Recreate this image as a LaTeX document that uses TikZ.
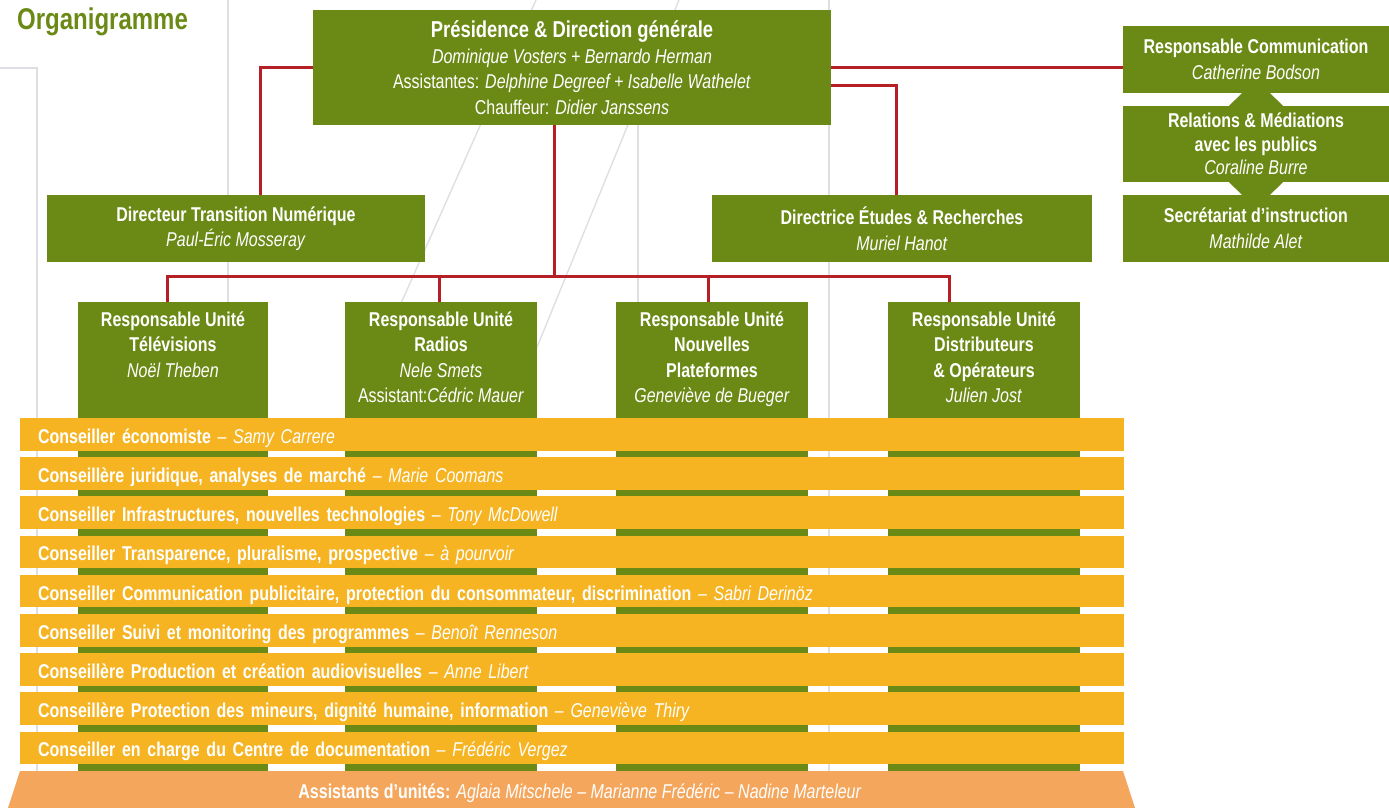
\documentclass[tikz,border=0pt]{standalone}
\usepackage{fontspec}
\setmainfont{Liberation Sans}[FakeStretch=0.8]
\usetikzlibrary{positioning}
\definecolor{CSAGreen}{RGB}{107,137,21}
\definecolor{CSARed}{RGB}{181,32,38}
\definecolor{CSAYellow}{RGB}{246,180,35}
\definecolor{CSAOrange}{RGB}{244,166,92}
\definecolor{CSAGray}{RGB}{221,223,227}

\begin{document}
\begin{tikzpicture}[x=1pt,y=-1pt,
  box/.style={fill=CSAGreen,text=white,align=center,inner sep=0pt,font=\fontsize{20}{25.5}\selectfont},
  unitcol/.style={fill=CSAGreen,minimum width=190pt,minimum height=469pt,inner sep=0pt},
  unittxt/.style={text=white,align=center,inner sep=0pt,anchor=north,font=\fontsize{20}{25.3}\selectfont},
  bar/.style={fill=CSAYellow,text=white,text width=1068pt,align=left,inner xsep=18pt,inner ysep=0pt,minimum height=32.5pt,text height=19pt,text depth=1pt,font=\fontsize{20}{24}\selectfont},
  link/.style={draw=CSARed,line width=3pt},
  deco/.style={draw=CSAGray,line width=1.4pt}]
\useasboundingbox (0,0) rectangle (1389,808);
\draw[deco] (0,68) -- (37,68) -- (37,771);
\draw[deco] (228,0) -- (228,771);
\draw[deco] (638,125) -- (638,771);
\draw[deco] (829,0) -- (829,771);
\draw[deco] (536,0) -- (350,418);
\draw[deco] (679,0) -- (508,418);

\node[box,minimum width=518pt,minimum height=115pt] (pres) at (572,67.5) {{\fontsize{23}{25.5}\selectfont\textbf{Présidence \& Direction générale}}\\\textit{Dominique Vosters + Bernardo Herman}\\Assistantes: \textit{Delphine Degreef + Isabelle Wathelet}\\Chauffeur: \textit{Didier Janssens}};
\node[box,minimum width=266pt,minimum height=67pt] (comm) at (1256,59.5) {\textbf{Responsable Communication}\\\textit{Catherine Bodson}};
\node[box,minimum width=266pt,minimum height=76pt,font=\fontsize{20}{23.5}\selectfont] (rel) at (1256,144) {\textbf{Relations \& Médiations}\\\textbf{avec les publics}\\\textit{Coraline Burre}};
\node[box,minimum width=266pt,minimum height=67pt] (secr) at (1256,228.5) {\textbf{Secrétariat d’instruction}\\\textit{Mathilde Alet}};
\fill[CSAGreen] ([xshift=-14pt]comm.south) -- ([xshift=14pt]comm.south) -- ([xshift=27pt]rel.north) -- ([xshift=-27pt]rel.north) -- cycle;
\fill[CSAGreen] ([xshift=-27pt]rel.south) -- ([xshift=27pt]rel.south) -- ([xshift=14pt]secr.north) -- ([xshift=-14pt]secr.north) -- cycle;
\node[box,minimum width=378pt,minimum height=67pt] (dtn) at (236,228.5) {\textbf{Directeur Transition Numérique}\\\textit{Paul-Éric Mosseray}};
\node[box,minimum width=380pt,minimum height=67pt] (der) at (902,228.5) {\textbf{Directrice Études \& Recherches}\\\textit{Muriel Hanot}};

\node[unitcol] (tvcol) at (173,536.5) {};
\node[unitcol,minimum width=192pt] (racol) at (441,536.5) {};
\node[unitcol,minimum width=192pt] (plcol) at (712,536.5) {};
\node[unitcol,minimum width=192pt] (dicol) at (984,536.5) {};
\node[unittxt] (tv) at ([yshift=-10pt]tvcol.north) {\textbf{Responsable Unité}\\\textbf{Télévisions}\\\textit{Noël Theben}};
\node[unittxt] (ra) at ([yshift=-10pt]racol.north) {\textbf{Responsable Unité}\\\textbf{Radios}\\\textit{Nele Smets}\\Assistant:\textit{Cédric Mauer}};
\node[unittxt] (pl) at ([yshift=-10pt]plcol.north) {\textbf{Responsable Unité}\\\textbf{Nouvelles}\\\textbf{Plateformes}\\\textit{Geneviève de Bueger}};
\node[unittxt] (di) at ([yshift=-10pt]dicol.north) {\textbf{Responsable Unité}\\\textbf{Distributeurs}\\\textbf{\& Opérateurs}\\\textit{Julien Jost}};

\coordinate (hub) at (554,276);
\draw[link] (pres.west) -| ([xshift=24pt]dtn.north);
\draw[link] (pres.east) -- (pres.east -| comm.west);
\draw[link] ([yshift=-17.5pt]pres.east) -| ([xshift=-6pt]der.north);
\draw[link] ([xshift=-18pt]pres.south) -- (hub);
\draw[link] ([xshift=-6pt]tvcol.north) |- (hub) -| ([xshift=-35pt]dicol.north);
\draw[link] ([xshift=-2pt]racol.north) -- ([xshift=-2pt]racol.north |- hub);
\draw[link] ([xshift=-4pt]plcol.north) -- ([xshift=-4pt]plcol.north |- hub);

\foreach \role/\who [count=\i] in {
  {Conseiller économiste}/{Samy Carrere},
  {Conseillère juridique, analyses de marché}/{Marie Coomans},
  {Conseiller Infrastructures, nouvelles technologies}/{Tony McDowell},
  {Conseiller Transparence, pluralisme, prospective}/{à pourvoir},
  {Conseiller Communication publicitaire, protection du consommateur, discrimination}/{Sabri Derinöz},
  {Conseiller Suivi et monitoring des programmes}/{Benoît Renneson},
  {Conseillère Production et création audiovisuelles}/{Anne Libert},
  {Conseillère Protection des mineurs, dignité humaine, information}/{Geneviève Thiry},
  {Conseiller en charge du Centre de documentation}/{Frédéric Vergez}}
  \node[bar] (bar\i) at (572,{434.25+39.2*(\i-1)}) {\textbf{\role}~\textit{– \who}};

\fill[CSAOrange] (20,771) -- (1123,771) -- (1135,808) -- (8,808) -- cycle;
\node[text=white,inner sep=0pt,font=\fontsize{20}{24}\selectfont] (assist) at (580,793) {\textbf{Assistants d’unités:} \textit{Aglaia Mitschele – Marianne Frédéric – Nadine Marteleur}};

\node[anchor=west,inner sep=0pt,text=CSAGreen,font=\fontsize{30}{30}\selectfont\bfseries] (title) at (17,22) {Organigramme};
\end{tikzpicture}
\end{document}
